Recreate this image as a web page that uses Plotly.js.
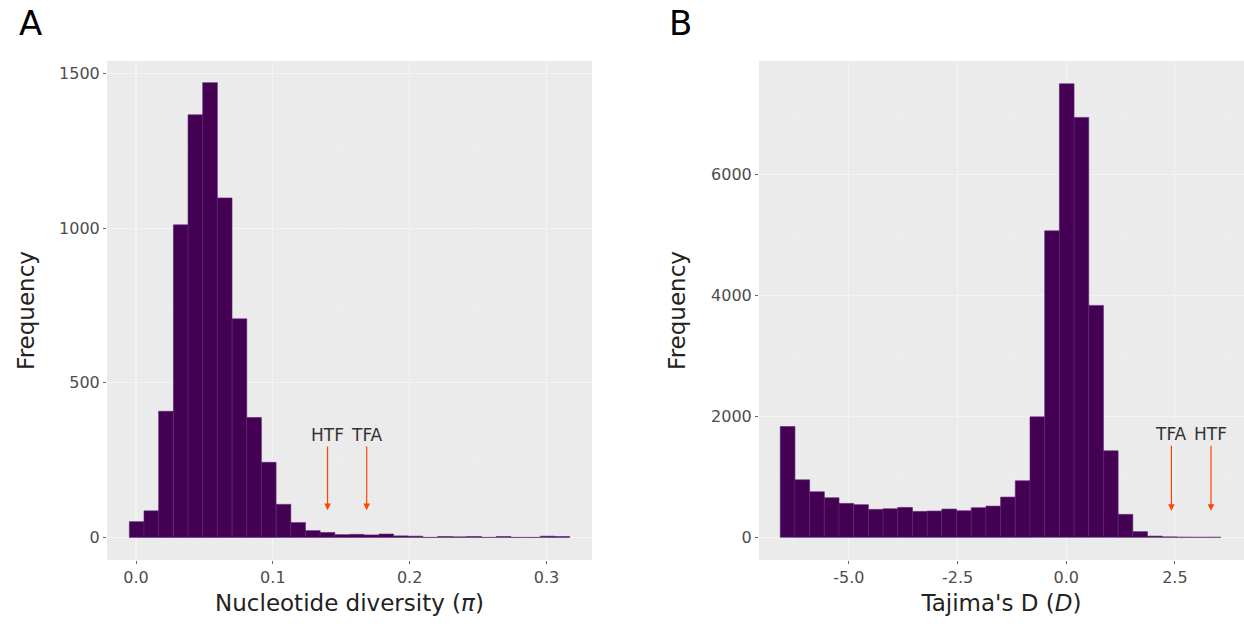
<!DOCTYPE html>
<html>
<head>
<meta charset="utf-8">
<script src="https://cdn.plot.ly/plotly-3.0.1.min.js"></script>
<style>html,body{margin:0;padding:0;background:#fff;}#chart{width:1244px;height:624px;}</style>
</head>
<body>
<div id="chart"></div>
<script>
// Panel A: nucleotide diversity histogram (bin centres, counts)
const binCentersA = [0.0005, 0.0112, 0.0219, 0.0327, 0.0434, 0.0541, 0.0648, 0.0756, 0.0863, 0.0970,
  0.1078, 0.1185, 0.1292, 0.1399, 0.1507, 0.1614, 0.1721, 0.1829, 0.1936, 0.2043,
  0.2150, 0.2258, 0.2365, 0.2472, 0.2580, 0.2687, 0.2794, 0.2901, 0.3009, 0.3116];
const countsA = [51, 86, 408, 1011, 1367, 1471, 1098, 707, 388, 243,
  107, 48, 22, 16, 9, 10, 8, 11, 5, 4,
  0, 3, 2, 3, 0, 3, 0, 0, 4, 3];
const binWidthA = 0.01073;

// Panel B: Tajima's D histogram
const binCentersB = [-6.411, -6.073, -5.735, -5.397, -5.059, -4.721, -4.383, -4.045, -3.707, -3.369,
  -3.031, -2.693, -2.355, -2.017, -1.679, -1.341, -1.003, -0.665, -0.327, 0.011,
  0.349, 0.687, 1.025, 1.363, 1.701, 2.039, 2.377, 2.715, 3.053, 3.391];
const countsB = [1833, 952, 754, 655, 561, 540, 462, 473, 495, 429,
  435, 468, 440, 490, 517, 666, 936, 1993, 5070, 7503,
  6947, 3837, 1431, 380, 94, 20, 8, 2, 0, 1];
const binWidthB = 0.338;

// Marker positions
const markersA = [{label: 'HTF', x: 0.140}, {label: 'TFA', x: 0.1686}];
const markersB = [{label: 'TFA', x: 2.42}, {label: 'HTF', x: 3.33}];

const ticksAx = [0, 0.1, 0.2, 0.3];
const tickTextAx = ['0.0', '0.1', '0.2', '0.3'];
const ticksAy = [0, 500, 1000, 1500];
const ticksBx = [-5, -2.5, 0, 2.5];
const tickTextBx = ['-5.0', '-2.5', '0.0', '2.5'];
const ticksBy = [0, 2000, 4000, 6000];

const barColor = '#440154';
const font = 'DejaVu Sans, sans-serif';

const traces = [
  {type: 'bar', x: binCentersA, y: countsA, width: binWidthA, xaxis: 'x', yaxis: 'y',
   marker: {color: barColor, line: {color: '#5a2670', width: 0.6}}, showlegend: false, hoverinfo: 'x+y'},
  {type: 'bar', x: binCentersB, y: countsB, width: binWidthB, xaxis: 'x2', yaxis: 'y2',
   marker: {color: barColor, line: {color: '#5a2670', width: 0.6}}, showlegend: false, hoverinfo: 'x+y'}
];

const minorGrid = '#EFEFEF';
function axisCommon() {
  return {
    showgrid: true, gridcolor: '#F4F4F4', gridwidth: 1.1,
    zeroline: false, showline: false,
    ticks: 'outside', ticklen: 3, tickwidth: 1, tickcolor: '#666',
    tickfont: {family: font, size: 16, color: '#4d4d4d'}
  };
}

const annotations = [];
markersA.forEach(m => annotations.push({
  xref: 'x', yref: 'y', axref: 'x', ayref: 'y', x: m.x, y: 88, ax: m.x, ay: 331,
  text: m.label, showarrow: true, arrowhead: 2, arrowsize: 1.1, arrowwidth: 1.2,
  arrowcolor: '#FF4500', standoff: 0, font: {family: font, size: 17, color: '#333'}
}));
markersB.forEach(m => annotations.push({
  xref: 'x2', yref: 'y2', axref: 'x2', ayref: 'y2', x: m.x, y: 439, ax: m.x, ay: 1705,
  text: m.label, showarrow: true, arrowhead: 2, arrowsize: 1.1, arrowwidth: 1.2,
  arrowcolor: '#FF4500', standoff: 0, font: {family: font, size: 17, color: '#333'}
}));
annotations.push({xref: 'paper', yref: 'paper', x: -0.0677, y: 1.076, text: 'A', showarrow: false,
  xanchor: 'center', yanchor: 'middle', font: {family: font, size: 34, color: '#000'}});
annotations.push({xref: 'paper', yref: 'paper', x: 0.504, y: 1.076, text: 'B', showarrow: false,
  xanchor: 'center', yanchor: 'middle', font: {family: font, size: 34, color: '#000'}});

const layout = {
  width: 1244, height: 624,
  margin: {l: 107, r: 0, t: 61, b: 64},
  paper_bgcolor: '#ffffff', plot_bgcolor: '#EBEBEB',
  bargap: 0, barmode: 'overlay',
  font: {family: font},
  xaxis: Object.assign(axisCommon(), {
    domain: [0, 0.4266], range: [-0.0212, 0.3333], tickvals: ticksAx, ticktext: tickTextAx,
    minor: {showgrid: true, gridcolor: minorGrid, gridwidth: 0.6, dtick: 0.05, tick0: 0},
    title: {text: 'Nucleotide diversity (<i>π</i>)', font: {family: font, size: 23, color: '#222'}, standoff: 8}
  }),
  yaxis: Object.assign(axisCommon(), {
    domain: [0, 1], range: [-73, 1541], tickvals: ticksAy,
    minor: {showgrid: true, gridcolor: minorGrid, gridwidth: 0.6, dtick: 250, tick0: 0},
    title: {text: 'Frequency', font: {family: font, size: 23, color: '#222'}, standoff: 18}
  }),
  xaxis2: Object.assign(axisCommon(), {
    domain: [0.5734, 1], range: [-7.07, 4.09], tickvals: ticksBx, ticktext: tickTextBx, anchor: 'y2',
    minor: {showgrid: true, gridcolor: minorGrid, gridwidth: 0.6, dtick: 1.25, tick0: 0},
    title: {text: "Tajima's D (<i>D</i>)", font: {family: font, size: 23, color: '#222'}, standoff: 8}
  }),
  yaxis2: Object.assign(axisCommon(), {
    domain: [0, 1], range: [-375, 7880], tickvals: ticksBy, anchor: 'x2',
    minor: {showgrid: true, gridcolor: minorGrid, gridwidth: 0.6, dtick: 1000, tick0: 0},
    title: {text: 'Frequency', font: {family: font, size: 23, color: '#222'}, standoff: 18}
  }),
  annotations: annotations
};

Plotly.newPlot('chart', traces, layout, {displayModeBar: false, staticPlot: true});
</script>
</body>
</html>
